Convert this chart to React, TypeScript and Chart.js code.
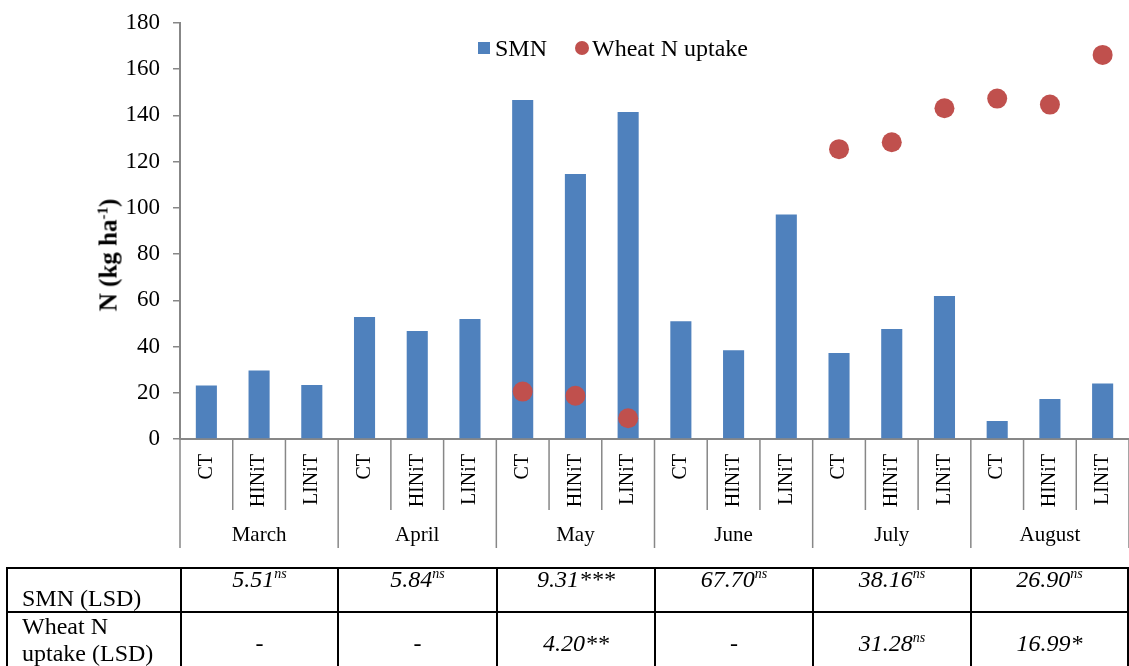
import React, { useEffect, useRef } from "react";
import { Chart, registerables } from "chart.js";

Chart.register(...registerables);

const months = ["March", "April", "May", "June", "July", "August"];
const treatments = ["CT", "HINiT", "LINiT"];
const smnValues = [23.2, 29.6, 23.4, 52.8, 46.7, 51.9, 146.7, 114.7, 141.5, 50.9, 38.4, 97.1, 37.2, 47.6, 61.9, 7.8, 17.3, 24.0];
const uptakeValues = [null, null, null, null, null, null, 20.5, 18.7, 9.0, null, null, null, 125.4, 128.4, 143.1, 147.3, 144.7, 166.2];
const yTicks = [0, 20, 40, 60, 80, 100, 120, 140, 160, 180];
const smnLsd = ["5.51", "5.84", "9.31", "67.70", "38.16", "26.90"];
const smnSig = ["ns", "ns", "***", "ns", "ns", "ns"];
const uptakeLsd = ["-", "-", "4.20", "-", "31.28", "16.99"];
const uptakeSig = ["", "", "**", "", "ns", "*"];

const FONT = "'Liberation Serif', 'Times New Roman', serif";
const AXIS = "#878787";
const BLUE = "#4F81BD";
const RED = "#C0504D";

const categoryLabels = months.flatMap(() => treatments);

const separatorPlugin = {
  id: "separators",
  afterDraw(chart: any) {
    const { ctx, chartArea, scales } = chart;
    const x = scales.x;
    const n = categoryLabels.length;
    const half = (x.getPixelForValue(1) - x.getPixelForValue(0)) / 2;
    ctx.save();
    ctx.strokeStyle = AXIS;
    ctx.lineWidth = 1.5;
    for (let i = 0; i <= n; i++) {
      const px = i < n ? x.getPixelForValue(i) - half : x.getPixelForValue(n - 1) + half;
      const bottom = i % 3 === 0 ? chartArea.bottom + 109 : chartArea.bottom + 71;
      ctx.beginPath();
      ctx.moveTo(px, chartArea.bottom);
      ctx.lineTo(px, bottom);
      ctx.stroke();
    }
    ctx.fillStyle = "#000";
    ctx.font = `21px ${FONT}`;
    ctx.textAlign = "center";
    ctx.textBaseline = "middle";
    months.forEach((m, g) => {
      const cx = x.getPixelForValue(g * 3 + 1);
      ctx.fillText(m, cx, chartArea.bottom + 96);
    });
    ctx.restore();
  },
};

export default function App() {
  const ref = useRef<HTMLCanvasElement | null>(null);
  useEffect(() => {
    if (!ref.current) return;
    const chart = new Chart(ref.current, {
      type: "bar",
      data: {
        labels: categoryLabels,
        datasets: [
          {
            type: "line",
            label: "Wheat N uptake",
            data: uptakeValues as any,
            showLine: false,
            pointRadius: 10,
            pointHoverRadius: 10,
            pointStyle: "circle",
            pointBackgroundColor: RED,
            pointBorderWidth: 0,
            backgroundColor: RED,
            borderColor: RED,
            clip: false,
            order: 0,
          } as any,
          {
            type: "bar",
            label: "SMN",
            data: smnValues,
            backgroundColor: BLUE,
            borderWidth: 0,
            categoryPercentage: 1,
            barPercentage: 0.4,
            order: 1,
          },
        ],
      },
      options: {
        responsive: false,
        animation: false,
        layout: { autoPadding: false, padding: { left: 0, right: 0, top: 23, bottom: 0 } },
        plugins: { legend: { display: false }, tooltip: { enabled: false }, title: { display: false } },
        scales: {
          x: {
            type: "category",
            grid: { display: false, drawTicks: false },
            border: { display: true, color: AXIS, width: 2 },
            ticks: {
              minRotation: 90,
              maxRotation: 90,
              autoSkip: false,
              padding: 15,
              color: "#000",
              font: { family: FONT, size: 20 },
            },
            afterFit(scale: any) {
              scale.height = 666 - 439;
              scale.paddingLeft = 0;
              scale.paddingRight = 0;
            },
          },
          y: {
            min: 0,
            max: 180,
            afterBuildTicks(scale: any) {
              scale.ticks = yTicks.map((v) => ({ value: v }));
            },
            grid: { display: true, drawOnChartArea: false, drawTicks: true, tickLength: 7, color: AXIS, lineWidth: 1.5 },
            border: { display: true, color: AXIS, width: 2 },
            ticks: { padding: 13, color: "#000", font: { family: FONT, size: 23 } },
            afterFit(scale: any) {
              scale.width = 180;
              scale.paddingTop = 0;
              scale.paddingBottom = 0;
            },
          },
        },
      },
      plugins: [separatorPlugin],
    });
    return () => chart.destroy();
  }, []);

  const colEdges = [7, 181, 338, 497, 655, 813, 971, 1128];
  const colWidths = colEdges.slice(1).map((e, i) => e - colEdges[i]);
  const cellBase: React.CSSProperties = {
    border: "2px solid #000",
    padding: 0,
    fontFamily: FONT,
    fontSize: 24,
    color: "#000",
  };
  const supStyle: React.CSSProperties = { fontSize: 14, lineHeight: 0 };

  return (
    <div style={{ position: "absolute", left: 0, top: 0, width: 1129, height: 666, background: "#fff", overflow: "hidden" }}>
      <canvas ref={ref} width={1129} height={666} style={{ position: "absolute", left: 0, top: 0 }} />
      <div
        style={{
          position: "absolute",
          left: 108,
          top: 255,
          transform: "translate(-50%, -50%) rotate(-90deg)",
          fontFamily: FONT,
          fontWeight: "bold",
          fontSize: 25,
          whiteSpace: "nowrap",
          lineHeight: 1,
        }}
      >
        N (kg ha<sup style={{ fontSize: 15, lineHeight: 0 }}>-1</sup>)
      </div>
      <div
        style={{
          position: "absolute",
          left: 478,
          top: 34,
          display: "flex",
          alignItems: "center",
          fontFamily: FONT,
          fontSize: 24,
          whiteSpace: "nowrap",
          lineHeight: "28px",
        }}
      >
        <span style={{ display: "inline-block", width: 12, height: 12, background: BLUE, marginRight: 5 }} />
        <span>SMN</span>
        <span style={{ display: "inline-block", width: 14, height: 14, borderRadius: 7, background: RED, marginLeft: 28, marginRight: 3 }} />
        <span>Wheat N uptake</span>
      </div>
      <table
        style={{
          position: "absolute",
          left: 6,
          top: 567,
          borderCollapse: "collapse",
          tableLayout: "fixed",
          width: 1123,
        }}
      >
        <colgroup>
          {colWidths.map((w, i) => (
            <col key={i} style={{ width: w }} />
          ))}
        </colgroup>
        <tbody>
          <tr style={{ height: 44 }}>
            <td style={{ ...cellBase, verticalAlign: "bottom", paddingLeft: 14, paddingBottom: 0, lineHeight: "26px" }}>SMN (LSD)</td>
            {smnLsd.map((v, i) => (
              <td
                key={i}
                style={{ ...cellBase, textAlign: "center", verticalAlign: "top", fontStyle: "italic", paddingTop: 0, lineHeight: "20px" }}
              >
                {v}
                {smnSig[i] === "ns" ? <sup style={supStyle}>ns</sup> : smnSig[i]}
              </td>
            ))}
          </tr>
          <tr style={{ height: 54 }}>
            <td style={{ ...cellBase, paddingLeft: 14, lineHeight: "27px", verticalAlign: "top" }}>
              Wheat N
              <br />
              uptake (LSD)
            </td>
            {uptakeLsd.map((v, i) => (
              <td
                key={i}
                style={{
                  ...cellBase,
                  textAlign: "center",
                  verticalAlign: "middle",
                  fontStyle: v === "-" ? "normal" : "italic",
                  paddingTop: 6,
                  lineHeight: "24px",
                }}
              >
                {v}
                {uptakeSig[i] === "ns" ? <sup style={supStyle}>ns</sup> : uptakeSig[i]}
              </td>
            ))}
          </tr>
        </tbody>
      </table>
    </div>
  );
}
